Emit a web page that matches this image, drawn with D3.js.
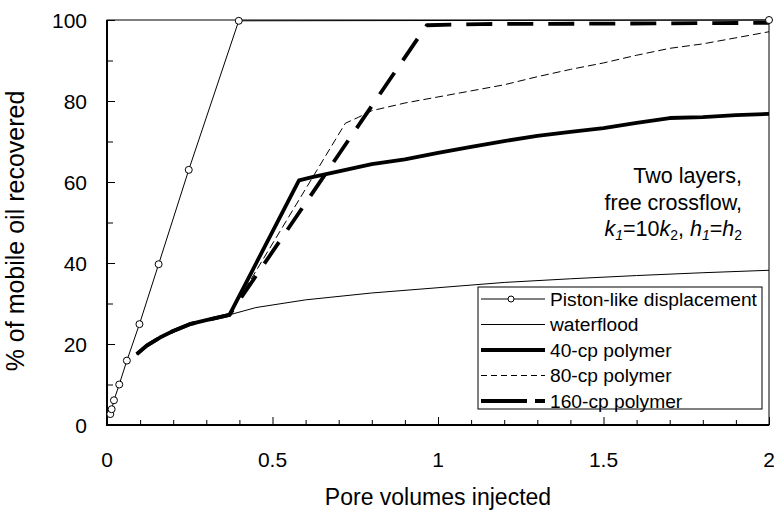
<!DOCTYPE html>
<html>
<head>
<meta charset="utf-8">
<script src="https://cdn.jsdelivr.net/npm/d3@7"></script>
<style>
  html, body { margin: 0; padding: 0; background: #fff; }
  svg { display: block; font-family: "Liberation Sans", Arial, sans-serif; }
</style>
</head>
<body>
<svg id="chart" width="774" height="513"></svg>
<script>
// ---------- data ----------
const xTicks = [0, 0.5, 1, 1.5, 2];
const yTicks = [0, 20, 40, 60, 80, 100];

const pistonPV  = [0.01, 0.014, 0.021, 0.037, 0.06, 0.098, 0.156, 0.247, 0.398, 2.0];
const pistonRec = [2.7, 3.9, 6.1, 10.0, 15.9, 24.9, 39.7, 63.0, 99.8, 100];

const waterPV  = [0.09, 0.12, 0.16, 0.2, 0.25, 0.3, 0.37, 0.45, 0.6, 0.8, 1.0, 1.2, 1.4, 1.6, 1.8, 2.0];
const waterRec = [17.5, 19.6, 21.6, 23.2, 24.9, 25.9, 27.2, 29.0, 30.9, 32.6, 33.9, 35.2, 36.1, 36.9, 37.6, 38.2];

const p40PV  = [0.09, 0.12, 0.16, 0.2, 0.25, 0.3, 0.37, 0.58, 0.62, 0.7, 0.8, 0.9, 1.0, 1.1, 1.2, 1.3, 1.4, 1.5, 1.6, 1.7, 1.8, 1.9, 2.0];
const p40Rec = [17.5, 19.6, 21.6, 23.2, 24.9, 25.9, 27.2, 60.4, 61.2, 62.6, 64.4, 65.6, 67.2, 68.7, 70.1, 71.4, 72.4, 73.3, 74.6, 75.8, 76.0, 76.5, 76.8];

const p80PV  = [0.09, 0.12, 0.16, 0.2, 0.25, 0.3, 0.37, 0.72, 0.76, 0.8, 0.9, 1.0, 1.1, 1.2, 1.3, 1.4, 1.5, 1.6, 1.7, 1.8, 1.9, 2.0];
const p80Rec = [17.5, 19.6, 21.6, 23.2, 24.9, 25.9, 27.2, 74.5, 76.0, 77.6, 79.5, 81.0, 82.5, 84.0, 86.0, 87.8, 89.4, 91.3, 93.0, 94.1, 95.6, 97.1];

const p160PV  = [0.09, 0.12, 0.16, 0.2, 0.25, 0.3, 0.37, 0.966, 1.13, 1.5, 2.0];
const p160Rec = [17.5, 19.6, 21.6, 23.2, 24.9, 25.9, 27.2, 98.7, 99.0, 99.1, 99.3];

const legendLabels = ["Piston-like displacement", "waterflood", "40-cp polymer", "80-cp polymer", "160-cp polymer"];
const annotation = ["Two layers,", "free crossflow,"];

// ---------- layout ----------
const svg = d3.select("#chart");
const L = 107, R = 769, T = 20, B = 425;
const x = d3.scaleLinear().domain([0, 2]).range([L, R]);
const y = d3.scaleLinear().domain([0, 100]).range([B, T]);

const styles = [
  { w: 1,   dash: null,    legDash: null },
  { w: 1,   dash: null,    legDash: null },
  { w: 3.8, dash: null,    legDash: null },
  { w: 1,   dash: "8,4",   legDash: "6,4" },
  { w: 3.8, dash: "26,15", legDash: "46,8" }
];

// frame
svg.append("rect").attr("x", L).attr("y", T).attr("width", R - L).attr("height", B - T)
  .attr("fill", "none").attr("stroke", "#000").attr("stroke-width", 1);

// axes with inward ticks
const yAxis = d3.axisRight(y).tickValues(d3.range(0, 101, 10)).tickSize(0).tickFormat("");
const gy = svg.append("g").attr("transform", `translate(${L},0)`).call(yAxis);
gy.select(".domain").remove();
gy.selectAll(".tick line").attr("x2", d => d % 20 === 0 ? 8 : 6).attr("stroke", "#000");

const xAxis = d3.axisTop(x).tickValues(d3.range(0, 21).map(i => i / 10)).tickSize(0).tickFormat("");
const gx = svg.append("g").attr("transform", `translate(0,${B})`).call(xAxis);
gx.select(".domain").remove();
gx.selectAll(".tick line").attr("y2", (d, i) => i % 5 === 0 ? -8 : -5).attr("stroke", "#000");

svg.append("line").attr("x1", L).attr("x2", L).attr("y1", T).attr("y2", B + 1)
  .attr("stroke", "#000").attr("stroke-width", 2);
svg.append("line").attr("x1", L - 1).attr("x2", R).attr("y1", B).attr("y2", B)
  .attr("stroke", "#000").attr("stroke-width", 2);

// tick labels
svg.append("g").selectAll("text").data(yTicks).join("text")
  .attr("x", 87).attr("y", d => y(d)).attr("dy", "0.36em")
  .attr("text-anchor", "end").attr("font-size", 21).text(d => d);
svg.append("g").selectAll("text").data(xTicks).join("text")
  .attr("x", d => x(d)).attr("y", 467)
  .attr("text-anchor", "middle").attr("font-size", 21).text(d => d);

// axis titles
svg.append("text").attr("x", 438).attr("y", 505).attr("text-anchor", "middle")
  .attr("font-size", 23).text("Pore volumes injected");
svg.append("text").attr("transform", `translate(24,231) rotate(-90)`)
  .attr("text-anchor", "middle").attr("font-size", 25).text("% of mobile oil recovered");

// lines
const line = d3.line().x(d => x(d[0])).y(d => y(d[1]));
const series = [
  d3.zip(pistonPV, pistonRec),
  d3.zip(waterPV, waterRec),
  d3.zip(p40PV, p40Rec),
  d3.zip(p80PV, p80Rec),
  d3.zip(p160PV, p160Rec)
];
series.forEach((s, i) => {
  svg.append("path").datum(s).attr("d", line)
    .attr("fill", "none").attr("stroke", "#000")
    .attr("stroke-width", styles[i].w)
    .attr("stroke-dasharray", styles[i].dash)
    .attr("stroke-linejoin", "round");
});
svg.append("g").selectAll("circle").data(series[0]).join("circle")
  .attr("cx", d => x(d[0])).attr("cy", d => y(d[1])).attr("r", 3.5)
  .attr("fill", "#fff").attr("stroke", "#000").attr("stroke-width", 1);

// annotation
const ann = svg.append("g").attr("font-size", 21.5).attr("text-anchor", "end");
annotation.forEach((t, i) => ann.append("text").attr("x", 742).attr("y", 183 + i * 27).text(t));
const k = ann.append("text").attr("x", 742).attr("y", 236).attr("font-style", "italic");
k.append("tspan").text("k");
k.append("tspan").attr("font-size", 14).attr("dy", 4).text("1");
k.append("tspan").attr("dy", -4).attr("font-style", "normal").text("=10");
k.append("tspan").text("k");
k.append("tspan").attr("font-size", 14).attr("dy", 4).attr("font-style", "normal").text("2");
k.append("tspan").attr("dy", -4).attr("font-style", "normal").text(", ");
k.append("tspan").text("h");
k.append("tspan").attr("font-size", 14).attr("dy", 4).text("1");
k.append("tspan").attr("dy", -4).attr("font-style", "normal").text("=");
k.append("tspan").text("h");
k.append("tspan").attr("font-size", 14).attr("dy", 4).attr("font-style", "normal").text("2");

// legend
const lg = svg.append("g");
lg.append("rect").attr("x", 478).attr("y", 287).attr("width", 284).attr("height", 122)
  .attr("fill", "#fff").attr("stroke", "#000").attr("stroke-width", 1);
legendLabels.forEach((lab, i) => {
  const cy = 299 + i * 25.5;
  lg.append("line").attr("x1", 481).attr("x2", 545).attr("y1", cy).attr("y2", cy)
    .attr("stroke", "#000").attr("stroke-width", styles[i].w)
    .attr("stroke-dasharray", styles[i].legDash);
  if (i === 0) lg.append("circle").attr("cx", 511).attr("cy", cy).attr("r", 3)
    .attr("fill", "#fff").attr("stroke", "#000");
  lg.append("text").attr("x", 550).attr("y", cy).attr("dy", "0.36em")
    .attr("font-size", 19.2).text(lab);
});
</script>
</body>
</html>
